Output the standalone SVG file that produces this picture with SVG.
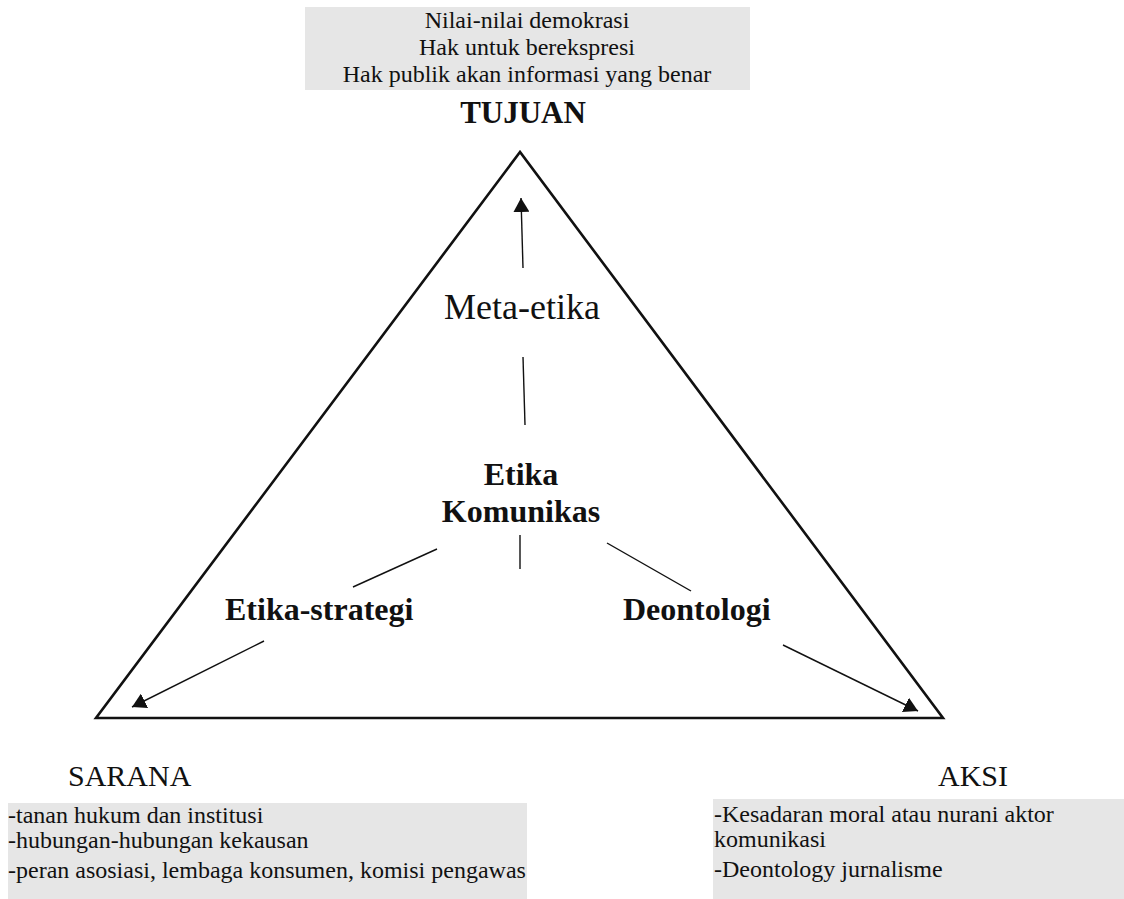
<svg xmlns="http://www.w3.org/2000/svg" width="1124" height="899" viewBox="0 0 1124 899">
<defs>
<style>
text{font-family:"Liberation Serif","Times New Roman",serif;fill:#111}
.box{fill:#e6e6e6}
.t{font-size:24px}
.s{font-size:24px}
.b{font-weight:bold;font-size:32px}
.lbl{font-size:30px}
.c{stroke:#111;stroke-width:1.4;fill:none}
</style>
<marker id="ah" markerUnits="userSpaceOnUse" markerWidth="16" markerHeight="16" refX="14" refY="8" orient="auto">
<path d="M0,0 L14,8 L0,16 Z" fill="#111"/>
</marker>
</defs>
<rect width="1124" height="899" fill="#fff"/>
<g id="triangle">
<polygon points="520,152 96,718 943,718" fill="none" stroke="#111" stroke-width="2.6" stroke-linejoin="miter"/>
</g>
<g id="tujuan-box">
<rect class="box" x="305" y="7" width="445" height="83"/>
<text class="t" x="527" y="28" text-anchor="middle">Nilai-nilai demokrasi</text>
<text class="t" x="527" y="55" text-anchor="middle">Hak untuk berekspresi</text>
<text class="t" x="527" y="82" text-anchor="middle">Hak publik akan informasi yang benar</text>
</g>
<g id="tujuan"><text class="b" style="font-size:31px" x="523" y="123" text-anchor="middle">TUJUAN</text></g>
<g id="meta-etika"><text style="font-size:36px" x="522" y="319" text-anchor="middle">Meta-etika</text></g>
<g id="etika-komunikas">
<text class="b" x="521" y="485" text-anchor="middle">Etika</text>
<text class="b" x="521" y="522" text-anchor="middle">Komunikas</text>
</g>
<g id="etika-strategi"><text class="b" x="225" y="620">Etika-strategi</text></g>
<g id="deontologi"><text class="b" x="623" y="620">Deontologi</text></g>
<g id="sarana">
<text class="lbl" x="68" y="786">SARANA</text>
<rect class="box" x="8" y="803" width="519" height="96"/>
<text class="s" x="8" y="823">-tanan hukum dan institusi</text>
<text class="s" x="8" y="848">-hubungan-hubungan kekausan</text>
<text class="s" x="8" y="878">-peran asosiasi, lembaga konsumen, komisi pengawas</text>
</g>
<g id="aksi">
<text class="lbl" x="938" y="786">AKSI</text>
<rect class="box" x="713" y="799" width="411" height="100"/>
<text class="s" x="714" y="822">-Kesadaran moral atau nurani aktor</text>
<text class="s" x="714" y="847">komunikasi</text>
<text class="s" x="714" y="877">-Deontology jurnalisme</text>
</g>
<g id="connectors">
<line class="c" x1="523" y1="268" x2="521" y2="198" marker-end="url(#ah)"/>
<line class="c" x1="523" y1="357" x2="525" y2="425"/>
<line class="c" x1="520" y1="535" x2="520" y2="569"/>
<line class="c" x1="437" y1="549" x2="353" y2="587"/>
<line class="c" x1="607" y1="543" x2="691" y2="591"/>
<line class="c" x1="264" y1="641" x2="132" y2="707" marker-end="url(#ah)"/>
<line class="c" x1="783" y1="645" x2="918" y2="711" marker-end="url(#ah)"/>
</g>
</svg>
